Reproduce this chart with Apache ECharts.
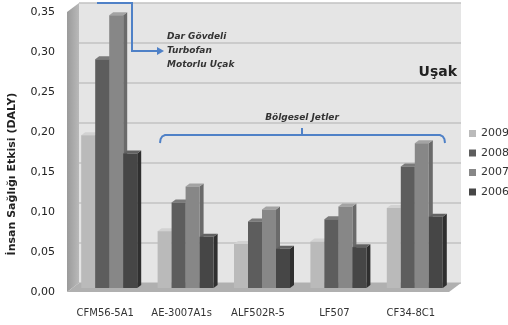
<!DOCTYPE html>
<html>
<head>
<meta charset="utf-8">
<script src="https://cdn.jsdelivr.net/npm/echarts@6/dist/echarts.min.js"></script>
<style>
  html, body { margin: 0; padding: 0; background: #fff; }
  #chart { width: 508px; height: 325px; }
</style>
</head>
<body>
<div id="chart"></div>
<script>
// Engine types and yearly human-health impact (DALY)
const categories = ['CFM56-5A1', 'AE-3007A1s', 'ALF502R-5', 'LF507', 'CF34-8C1'];
const years = ['2009', '2008', '2007', '2006'];
const values2009 = [0.191, 0.071, 0.055, 0.058, 0.100];
const values2008 = [0.286, 0.107, 0.083, 0.086, 0.152];
const values2007 = [0.341, 0.127, 0.098, 0.102, 0.181];
const values2006 = [0.168, 0.064, 0.049, 0.051, 0.089];
const yTicks = [0, 0.05, 0.10, 0.15, 0.20, 0.25, 0.30, 0.35];

const seriesValues = [values2009, values2008, values2007, values2006];

// face colours per year: [front, top, side]
const faceColors = [
  ['#bababa', '#d2d2d2', '#9a9a9a'],
  ['#5d5d5d', '#7a7a7a', '#454545'],
  ['#878787', '#a3a3a3', '#6a6a6a'],
  ['#464646', '#626262', '#2f2f2f']
];

// front plane and back wall layout
const FRONT = { left: 67, top: 12, right: 59, bottom: 33 };
const DEPTH_X = 12, DEPTH_Y = 9;
const W = 508, H = 325;
const BAR_W = 14, BAR_DX = 4, BAR_DY = 4, TOP_DX = 4, TOP_DY = 3;

const fontFamily = 'DejaVu Sans, sans-serif';
const fmt = v => v.toFixed(2).replace('.', ',');

function renderBar(params, api) {
  const k = params.seriesIndex;
  const cat = api.value(0);
  const v = api.value(1);
  const base = api.coord([cat, 0]);
  const top = api.coord([cat, v]);
  const x0 = base[0] + (k - 2) * BAR_W + BAR_DX;
  const x1 = x0 + BAR_W;
  const yb = base[1] - BAR_DY;
  const yt = top[1] - BAR_DY;
  const c = faceColors[k];
  return {
    type: 'group',
    children: [
      {
        type: 'polygon',
        shape: { points: [[x1, yb], [x1, yt], [x1 + TOP_DX, yt - TOP_DY], [x1 + TOP_DX, yb - TOP_DY]] },
        style: { fill: c[2] }
      },
      {
        type: 'polygon',
        shape: { points: [[x0, yt], [x1, yt], [x1 + TOP_DX, yt - TOP_DY], [x0 + TOP_DX, yt - TOP_DY]] },
        style: { fill: c[1] }
      },
      {
        type: 'rect',
        shape: { x: x0, y: yt, width: BAR_W, height: yb - yt },
        style: { fill: c[0] }
      }
    ]
  };
}

const chart = echarts.init(document.getElementById('chart'), null, { renderer: 'canvas' });

const fl = FRONT.left, ft = FRONT.top, fr = W - FRONT.right, fb = H - FRONT.bottom;
const blue = '#4f81c7';
const noteStyle = { fontFamily: fontFamily, fontSize: 9, fontWeight: 'bold', fontStyle: 'italic', fill: '#333' };

const option = {
  animation: false,
  backgroundColor: '#ffffff',
  grid: [
    { left: FRONT.left, top: FRONT.top, right: FRONT.right, bottom: FRONT.bottom, show: false },
    {
      left: FRONT.left + DEPTH_X, top: FRONT.top - DEPTH_Y,
      right: FRONT.right - DEPTH_X, bottom: FRONT.bottom + DEPTH_Y,
      show: true, backgroundColor: '#e5e5e5', borderWidth: 0
    }
  ],
  xAxis: [
    {
      type: 'category', gridIndex: 0, data: categories,
      axisLine: { show: false }, axisTick: { show: false },
      axisLabel: { interval: 0, margin: 16, fontSize: 10, color: '#333', fontFamily: fontFamily }
    },
    { type: 'category', gridIndex: 1, data: categories, show: false }
  ],
  yAxis: [
    {
      type: 'value', gridIndex: 0, min: 0, max: 0.35, interval: 0.05,
      axisLine: { show: false }, axisTick: { show: false }, splitLine: { show: false },
      axisLabel: {
        margin: 12, fontSize: 11, color: '#222', fontFamily: fontFamily,
        customValues: yTicks, formatter: fmt
      }
    },
    {
      type: 'value', gridIndex: 1, min: 0, max: 0.35, interval: 0.05,
      axisLine: { show: false }, axisTick: { show: false }, axisLabel: { show: false },
      splitLine: { show: true, lineStyle: { color: '#c2c2c2', width: 1.5 } }
    }
  ],
  legend: {
    orient: 'vertical', left: 464, top: 123,
    itemWidth: 7, itemHeight: 7, itemGap: 8.5, icon: 'rect',
    textStyle: { fontSize: 11, color: '#333', fontFamily: fontFamily },
    data: years
  },
  series: years.map((y, k) => ({
    name: y,
    type: 'custom',
    xAxisIndex: 0, yAxisIndex: 0,
    renderItem: renderBar,
    itemStyle: { color: faceColors[k][0] },
    encode: { x: 0, y: 1 },
    data: seriesValues[k].map((v, i) => [i, v]),
    z: 3
  })),
  graphic: [
    // left side wall
    {
      type: 'polygon', z: 1, silent: true,
      shape: { points: [[fl, fb], [fl, ft], [fl + DEPTH_X, ft - DEPTH_Y], [fl + DEPTH_X, fb - DEPTH_Y]] },
      style: {
        fill: new echarts.graphic.LinearGradient(0, 0, 1, 0, [
          { offset: 0, color: '#9a9a9a' }, { offset: 1, color: '#b9b9b9' }
        ])
      }
    },
    // floor
    {
      type: 'polygon', z: 1, silent: true,
      shape: { points: [[fl, fb], [fl + DEPTH_X, fb - DEPTH_Y], [fr + DEPTH_X, fb - DEPTH_Y], [fr, fb]] },
      style: { fill: '#b0b0b0' }
    },
    // y axis title
    {
      type: 'text', z: 5,
      rotation: Math.PI / 2,
      x: 12, y: 174,
      style: {
        text: 'İnsan Sağlığı Etkisi (DALY)', fontFamily: fontFamily, fontSize: 11,
        fontWeight: 'bold', fill: '#222', align: 'center', verticalAlign: 'middle'
      }
    },
    // narrow-body arrow
    {
      type: 'polyline', z: 6, silent: true,
      shape: { points: [[97, 3], [132, 3], [132, 51], [158, 51]] },
      style: { stroke: blue, lineWidth: 2, fill: null }
    },
    {
      type: 'polygon', z: 6, silent: true,
      shape: { points: [[157, 47], [164, 51], [157, 55]] },
      style: { fill: blue }
    },
    { type: 'text', z: 6, x: 167, y: 37, style: Object.assign({ text: 'Dar Gövdeli', verticalAlign: 'middle' }, noteStyle) },
    { type: 'text', z: 6, x: 167, y: 51, style: Object.assign({ text: 'Turbofan', verticalAlign: 'middle' }, noteStyle) },
    { type: 'text', z: 6, x: 167, y: 65, style: Object.assign({ text: 'Motorlu Uçak', verticalAlign: 'middle' }, noteStyle) },
    // city label
    {
      type: 'text', z: 6, x: 457, y: 72,
      style: { text: 'Uşak', fontFamily: fontFamily, fontSize: 14, fontWeight: 'bold', fill: '#222', align: 'right', verticalAlign: 'middle' }
    },
    // regional jets brace
    {
      type: 'polyline', z: 6, silent: true,
      shape: { points: [[160, 143], [160.6, 139], [162.2, 136.4], [165, 135], [440, 135], [442.8, 136.4], [444.4, 139], [445, 143]] },
      style: { stroke: blue, lineWidth: 2, fill: null }
    },
    {
      type: 'line', z: 6, silent: true,
      shape: { x1: 302, y1: 135, x2: 302, y2: 128 },
      style: { stroke: blue, lineWidth: 2 }
    },
    {
      type: 'text', z: 6, x: 302, y: 118,
      style: Object.assign({ text: 'Bölgesel Jetler', align: 'center', verticalAlign: 'middle' }, noteStyle)
    }
  ]
};

chart.setOption(option);
</script>
</body>
</html>
